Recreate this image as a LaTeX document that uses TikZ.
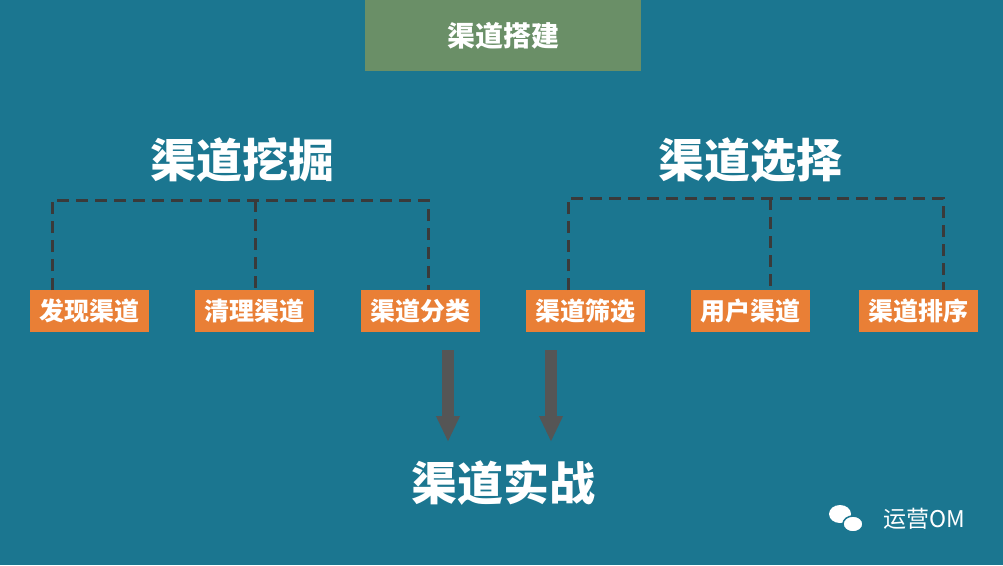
\documentclass[tikz,border=0pt]{standalone}
\usepackage{fontspec}
\setmainfont{Noto Sans CJK SC}
\usetikzlibrary{arrows.meta}
\definecolor{bgblue}{HTML}{1B7690}
\definecolor{topgreen}{HTML}{6A8F67}
\definecolor{boxorange}{HTML}{E97F36}
\definecolor{dashgray}{HTML}{3A3A3A}
\definecolor{arrowgray}{HTML}{555555}
\tikzset{
    chanbox/.style={fill=boxorange,text=white,font=\bfseries\fontsize{25}{25}\selectfont,minimum width=119pt,minimum height=42pt,inner sep=0pt},
    heading/.style={text=white,font=\bfseries\fontsize{46}{46}\selectfont},
    dashline/.style={dashgray,line width=3pt,dash pattern=on 12pt off 7pt},
    downarrow/.style={arrowgray,line width=12pt,-{Triangle[width=22pt,length=26pt]}}
}
\begin{document}
\begin{tikzpicture}[x=1pt,y=-1pt]
    \fill[bgblue] (0,0) rectangle (1003,565);
    \useasboundingbox (0,0) rectangle (1003,565);
    \node[fill=topgreen,text=white,font=\bfseries\fontsize{28}{28}\selectfont,minimum width=276pt,minimum height=71pt,inner sep=0pt] (top) at (503,35.5) {渠道搭建};

    \node[heading] (dig) at (242,160) {渠道挖掘};
    \node[heading] (pick) at (750,160) {渠道选择};

    \node[chanbox] (find) at (89.5,311) {发现渠道};
    \node[chanbox] (clean) at (254,311) {清理渠道};
    \node[chanbox] (sort) at (420.5,311) {渠道分类};
    \node[chanbox] (filter) at (585.5,311) {渠道筛选};
    \node[chanbox] (user) at (750.5,311) {用户渠道};
    \node[chanbox] (rank) at (918.5,311) {渠道排序};

    % dashed brackets
    \draw[dashline] (52,290) -- (52,200) -- (428,200) -- (428,290);
    \draw[dashline] (255,200) -- (255,290);
    \draw[dashline] (568,290) -- (568,198) -- (943,198) -- (943,290);
    \draw[dashline] (770,198) -- (770,290);

    \node[heading] (fight) at (503,483) {渠道实战};
    \coordinate (a1) at (448,350);
    \coordinate (a2) at (551,350);
    \draw[downarrow] (a1) -- (448,442);
    \draw[downarrow] (a2) -- (551,442);

    % watermark
    \fill[white] (840,514) ellipse (11pt and 9pt);
    \fill[white] (853,524) ellipse (10pt and 8pt);
    \draw[bgblue,line width=1.5pt] (853,524) ellipse (10pt and 8pt);
    \node[text=white,font=\fontsize{23}{23}\selectfont,anchor=west] (mark) at (880,519) {运营OM};
\end{tikzpicture}
\end{document}
